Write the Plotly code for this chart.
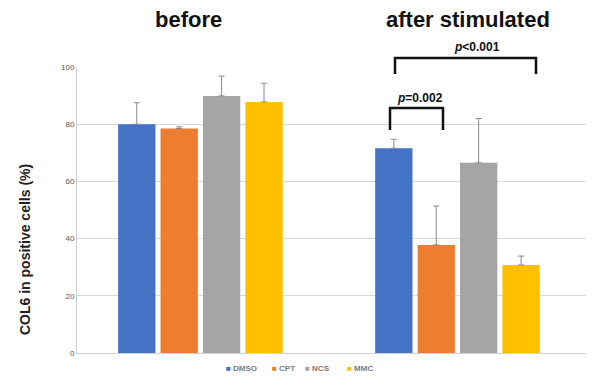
import plotly.graph_objects as go

categories = ["before", "after stimulated"]
series_names = ["DMSO", "CPT", "NCS", "MMC"]
colors = ["#4472C4", "#ED7D31", "#A5A5A5", "#FFC000"]
values = {
    "DMSO": [80.0, 71.6],
    "CPT": [78.5, 37.8],
    "NCS": [89.9, 66.5],
    "MMC": [87.8, 30.8],
}
errors = {
    "DMSO": [7.5, 3.1],
    "CPT": [0.6, 13.6],
    "NCS": [6.9, 15.5],
    "MMC": [6.5, 3.1],
}
y_ticks = [0, 20, 40, 60, 80, 100]
p_labels = ["<b><i>p</i>=0.002</b>", "<b><i>p</i><0.001</b>"]

FONT = "Liberation Sans, Arial, sans-serif"

fig = go.Figure()
for name, col in zip(series_names, colors):
    fig.add_trace(go.Bar(
        x=categories, y=values[name], name=name, showlegend=False,
        marker=dict(color=col, line=dict(width=0)),
        error_y=dict(type="data", array=errors[name], arrayminus=[0, 0],
                     symmetric=False, color="#8a8a8a", thickness=1, width=3),
    ))

L, R, T, B = 77, 13, 67, 29
W, H = 599, 382
pw = W - L - R
ph = H - T - B

def px_x(px):
    return (px - L) / pw

def px_y(py):
    return (H - B - py) / ph

shapes = []
for (x0, x1, ytop, ybot) in [(390, 443, 108, 130), (395, 536, 58, 74)]:
    shapes.append(dict(type="path", xref="paper", yref="paper",
                       path=f"M {px_x(x0)},{px_y(ybot)} L {px_x(x0)},{px_y(ytop)} L {px_x(x1)},{px_y(ytop)} L {px_x(x1)},{px_y(ybot)}",
                       line=dict(color="#111111", width=2.5)))

def ann(text, x, y, size, color="#111111", xanchor="center", textangle=0):
    return dict(text=text, x=px_x(x), y=px_y(y), xref="paper", yref="paper",
                xanchor=xanchor, yanchor="middle", showarrow=False, textangle=textangle,
                font=dict(size=size, color=color, family=FONT))

annotations = [
    ann("<b>before</b>", 188, 20, 22),
    ann("<b>after stimulated</b>", 468, 20, 22),
    ann(p_labels[0], 420, 98, 12),
    ann(p_labels[1], 477, 47, 12),
    ann("<b>COL6 in positive cells (%)</b>", 25, 250, 14, color="#222222", textangle=-90),
]
legend_x = [224, 270, 303, 345]
for name, col, lx in zip(series_names, colors, legend_x):
    annotations.append(ann(f"<span style='color:{col}'>■</span> <b>{name}</b>", lx, 368, 8,
                           color="#7a7a7a", xanchor="left"))

fig.update_layout(
    width=W, height=H,
    margin=dict(l=L, r=R, t=T, b=B, autoexpand=False),
    paper_bgcolor="white", plot_bgcolor="white",
    barmode="group", bargap=0.34, bargroupgap=0.12,
    showlegend=False,
    font=dict(family=FONT),
    shapes=shapes,
    annotations=annotations,
)
fig.update_xaxes(showticklabels=False, showline=True, linecolor="#d0d0d0", linewidth=1,
                 ticks="", showgrid=False, automargin=False, range=[-0.48, 1.5])
fig.update_yaxes(range=[0, 100], tickvals=y_ticks, showgrid=True, gridcolor="#d8d8d8",
                 gridwidth=1, showline=True, linecolor="#d0d0d0", linewidth=1,
                 zeroline=False, tickfont=dict(size=8, color="#555555", family=FONT),
                 ticks="", ticklen=0, automargin=False)

fig.write_html("out.html", config={"displayModeBar": False},
               post_script="document.body.style.margin='0';document.body.style.overflow='hidden';")
